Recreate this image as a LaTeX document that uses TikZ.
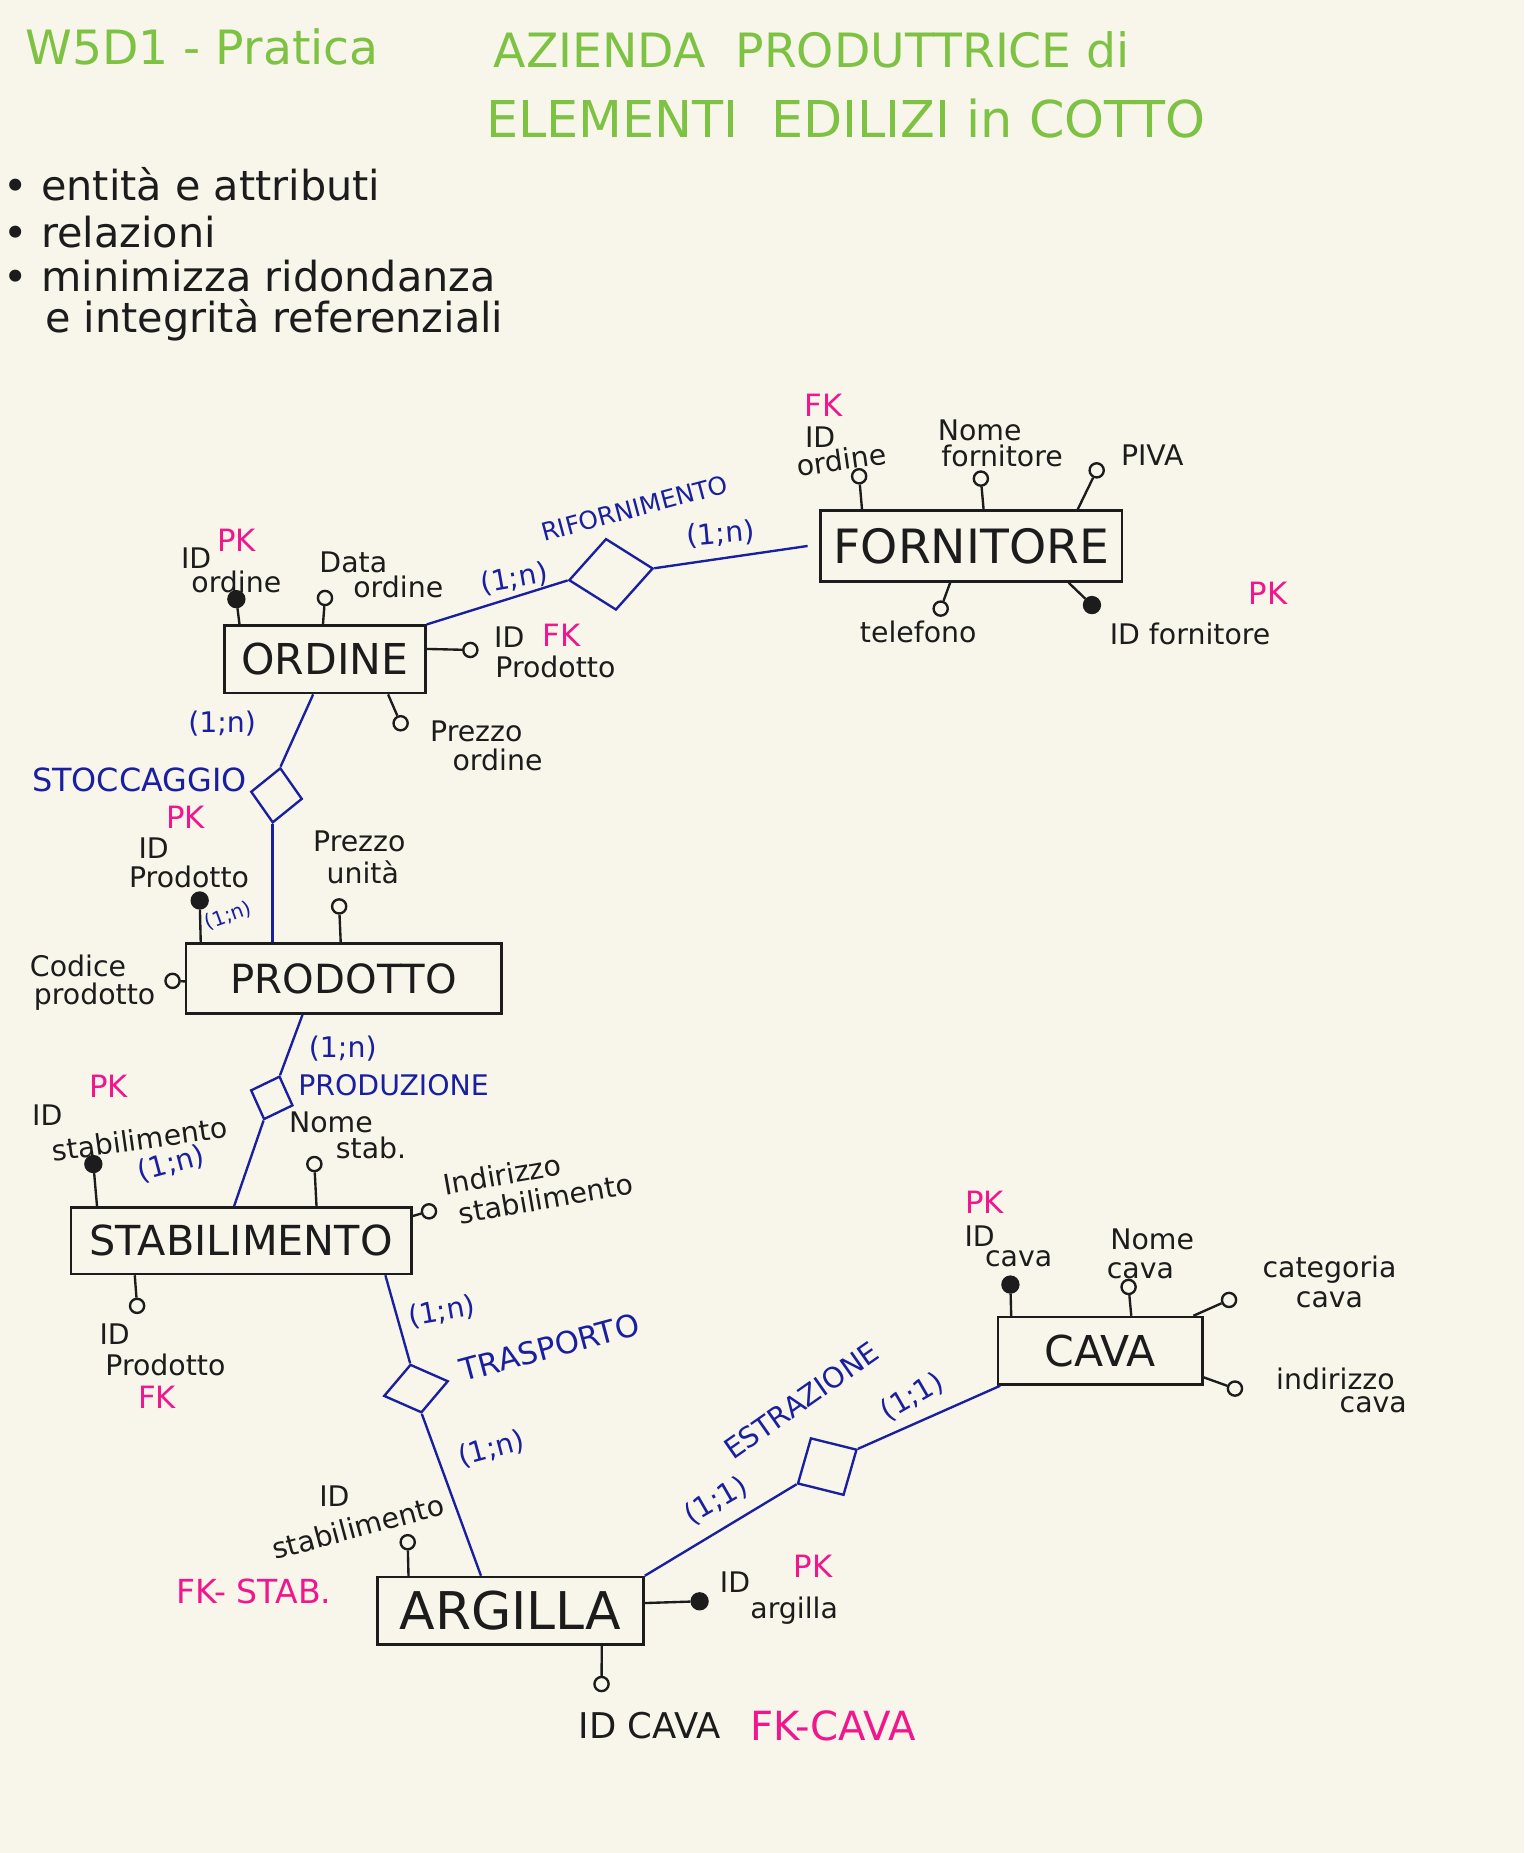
\documentclass[tikz,border=0pt]{standalone}
\usepackage{fontspec}
\setmainfont{DejaVu Sans}
\usetikzlibrary{shapes.geometric,calc}
\definecolor{bg}{HTML}{F8F6EA}
\definecolor{ink}{HTML}{1C1C1C}
\definecolor{navy}{HTML}{1A1FA0}
\definecolor{pinkk}{HTML}{F2168C}
\definecolor{grn}{HTML}{7DC242}
\begin{document}
\begin{tikzpicture}[x=1pt,y=-1pt,
  ent/.style={draw=ink, line width=2.2pt, inner sep=0pt, text=ink, font=\fontsize{36}{36}\selectfont},
  rel/.style={diamond, draw=navy, line width=2pt, inner sep=0pt},
  att/.style={circle, draw=ink, fill=bg, line width=2pt, minimum size=12pt, inner sep=0pt},
  keyatt/.style={circle, draw=ink, fill=ink, line width=1.5pt, minimum size=14pt, inner sep=0pt},
  lab/.style={font=\fontsize{24}{24}\selectfont, text=ink, inner sep=0pt},
  pkl/.style={font=\fontsize{26}{26}\selectfont, text=pinkk, inner sep=0pt},
  rlab/.style={font=\fontsize{24}{24}\selectfont, text=navy, inner sep=0pt},
  card/.style={font=\fontsize{24}{24}\selectfont, text=navy, inner sep=0pt},
  title/.style={font=\fontsize{40}{40}\selectfont, text=grn, inner sep=0pt},
  bul/.style={font=\fontsize{35}{35}\selectfont, text=ink, inner sep=0pt, anchor=west},
  aline/.style={draw=ink, line width=2pt},
  rline/.style={draw=navy, line width=2pt}
]
\fill[bg] (0,0) rectangle (1290,1568);
\useasboundingbox (0,0) rectangle (1290,1568);

% titles
\node[title] (t1) at (171,40) {W5D1 - Pratica};
\node[title] (t2) at (687,42) {AZIENDA\ \ PRODUTTRICE di};
\node[title, font=\fontsize{43}{43}\selectfont] (t3) at (716,100) {ELEMENTI\ \ EDILIZI in COTTO};

% bullets
\node[bul] (b1) at (3,156) {• entità e attributi};
\node[bul] (b2) at (3,196) {• relazioni};
\node[bul] (b3) at (3,234) {• minimizza ridondanza};
\node[bul] (b4) at (38,271) {e integrità referenziali};

% entities
\node[ent, minimum width=170pt, minimum height=57pt] (ord) at (275,558) {ORDINE};
\node[ent, minimum width=255pt, minimum height=60pt, font=\fontsize{40}{40}\selectfont] (forn) at (822,462) {FORNITORE};
\node[ent, minimum width=267pt, minimum height=59pt, font=\fontsize{34}{34}\selectfont] (prod) at (291,828) {PRODOTTO};
\node[ent, minimum width=288pt, minimum height=56pt, font=\fontsize{35}{35}\selectfont] (stab) at (204,1050) {STABILIMENTO};
\node[ent, minimum width=225pt, minimum height=57pt, font=\fontsize{44}{44}\selectfont] (arg) at (432,1363) {ARGILLA};
\node[ent, minimum width=173pt, minimum height=57pt] (cava) at (931,1143) {CAVA};

% relationships
\node[rel, minimum width=72pt, minimum height=61pt, rotate=8] (rif) at (517,486) {};
\node[rel, minimum width=44pt, minimum height=47pt, rotate=-8] (stoc) at (234,673) {};
\node[rel, minimum width=38pt, minimum height=39pt, rotate=-20] (pzn) at (230,929) {};
\node[rel, minimum width=56pt, minimum height=42pt, rotate=13] (tra) at (352,1175) {};
\node[rel, minimum width=58pt, minimum height=56pt, rotate=30] (estr) at (700,1241) {};

% relationship lines
\draw[rline] (ord.north east) -- (rif.west);
\draw[rline] (rif.east) -- ([xshift=-10pt]forn.west);
\draw[rline] ([xshift=-10pt]ord.south) -- (stoc.north);
\draw[rline] (stoc.south) -- (stoc.south |- prod.north);
\draw[rline] ([xshift=-35pt]prod.south) -- (pzn.north);
\draw[rline] (pzn.south) -- ([xshift=-6pt]stab.north);
\draw[rline] ([xshift=-23pt]stab.south east) -- (tra.north);
\draw[rline] (tra.south) -- ([xshift=-25pt]arg.north);
\draw[rline] (arg.north east) -- (estr.west);
\draw[rline] (estr.east) -- ([xshift=3pt]cava.south west);

% relationship labels
\node[rlab, rotate=15, font=\fontsize{21}{21}\selectfont] (lrif) at (537,430) {RIFORNIMENTO};
\node[card, rotate=10] (c1) at (435,490) {(1;n)};
\node[card, rotate=5] (c2) at (610,452) {(1;n)};
\node[rlab, font=\fontsize{27}{27}\selectfont] (lstoc) at (118,660) {STOCCAGGIO};
\node[card] (c3) at (188,612) {(1;n)};
\node[card, rotate=20, font=\fontsize{17}{17}\selectfont] (c4) at (193,775) {(1;n)};
\node[rlab] (lpzn) at (333,918) {PRODUZIONE};
\node[card] (c5) at (290,887) {(1;n)};
\node[card, rotate=15] (c6) at (145,985) {(1;n)};
\node[rlab, rotate=15, font=\fontsize{26}{26}\selectfont] (ltra) at (465,1140) {TRASPORTO};
\node[card, rotate=10] (c7) at (374,1110) {(1;n)};
\node[card, rotate=15] (c8) at (416,1226) {(1;n)};
\node[rlab, rotate=35] (lestr) at (678,1185) {ESTRAZIONE};
\node[card, rotate=30] (c9) at (772,1182) {(1;1)};
\node[card, rotate=30] (c10) at (606,1270) {(1;1)};

% ORDINE attributes
\node[keyatt] (o1) at (200,507) {};
\draw[aline] (o1) -- ($(ord.north west)!0.08!(ord.north east)$);
\node[att] (o2) at (275,506) {};
\draw[aline] (o2) -- ($(ord.north west)!0.49!(ord.north east)$);
\node[att] (o3) at (398,550) {};
\draw[aline] (o3) -- ($(ord.north east)!0.35!(ord.south east)$);
\node[att] (o4) at (339,612) {};
\draw[aline] (o4) -- ($(ord.south west)!0.81!(ord.south east)$);
\node[lab] (o1a) at (166,472) {ID};
\node[pkl] (o1p) at (200,457) {PK};
\node[lab] (o1b) at (200,492) {ordine};
\node[lab] (o2a) at (299,476) {Data};
\node[lab] (o2b) at (337,497) {ordine};
\node[lab] (o3a) at (431,539) {ID};
\node[pkl] (o3p) at (475,538) {FK};
\node[lab] (o3b) at (470,564) {Prodotto};
\node[lab] (o4a) at (403,619) {Prezzo};
\node[lab] (o4b) at (421,643) {ordine};

% FORNITORE attributes
\node[att] (f1) at (727,403) {};
\draw[aline] (f1) -- ($(forn.north west)!0.14!(forn.north east)$);
\node[att] (f2) at (830,405) {};
\draw[aline] (f2) -- ($(forn.north west)!0.54!(forn.north east)$);
\node[att] (f3) at (928,398) {};
\draw[aline] (f3) -- ($(forn.north west)!0.85!(forn.north east)$);
\node[att] (f4) at (796,515) {};
\draw[aline] (f4) -- ($(forn.south west)!0.43!(forn.south east)$);
\node[keyatt] (f5) at (924,512) {};
\draw[aline] (f5) -- ($(forn.south west)!0.82!(forn.south east)$);
\node[pkl] (f1p) at (697,343) {FK};
\node[lab] (f1a) at (694,370) {ID};
\node[lab, rotate=8] (f1b) at (712,389) {ordine};
\node[lab] (f2a) at (829,364) {Nome};
\node[lab] (f2b) at (848,386) {fornitore};
\node[lab] (f3a) at (975,385) {PIVA};
\node[lab] (f4a) at (777,535) {telefono};
\node[pkl] (f5p) at (1073,502) {PK};
\node[lab] (f5a) at (1007,536) {ID fornitore};

% PRODOTTO attributes
\node[keyatt] (p1) at (169,762) {};
\draw[aline] (p1) -- ($(prod.north west)!0.05!(prod.north east)$);
\node[att] (p2) at (287,767) {};
\draw[aline] (p2) -- ($(prod.north west)!0.49!(prod.north east)$);
\node[att] (p3) at (146,830) {};
\draw[aline] (p3) -- ($(prod.north west)!0.54!(prod.south west)$);
\node[pkl] (p1p) at (157,692) {PK};
\node[lab] (p1a) at (130,718) {ID};
\node[lab] (p1b) at (160,742) {Prodotto};
\node[lab] (p2a) at (304,712) {Prezzo};
\node[lab] (p2b) at (307,738) {unità};
\node[lab] (p3a) at (66,817) {Codice};
\node[lab] (p3b) at (80,843) {prodotto};

% STABILIMENTO attributes
\node[keyatt] (s1) at (79,985) {};
\draw[aline] (s1) -- ($(stab.north west)!0.08!(stab.north east)$);
\node[att] (s2) at (266,985) {};
\draw[aline] (s2) -- ($(stab.north west)!0.72!(stab.north east)$);
\node[att] (s3) at (363,1025) {};
\draw[aline] (s3) -- ($(stab.north east)!0.14!(stab.south east)$);
\node[att] (s4) at (116,1105) {};
\draw[aline] (s4) -- ($(stab.south west)!0.19!(stab.south east)$);
\node[pkl] (s1p) at (92,919) {PK};
\node[lab] (s1a) at (40,944) {ID};
\node[lab, rotate=8] (s1b) at (118,964) {stabilimento};
\node[lab] (s2a) at (280,950) {Nome};
\node[lab] (s2b) at (314,971) {stab.};
\node[lab, rotate=10] (s3a) at (425,994) {Indirizzo};
\node[lab, rotate=10] (s3b) at (462,1014) {stabilimento};
\node[lab] (s4a) at (97,1129) {ID};
\node[lab] (s4b) at (140,1155) {Prodotto};
\node[pkl] (s4p) at (133,1182) {FK};

% ARGILLA attributes
\node[att] (a1) at (345,1305) {};
\draw[aline] (a1) -- ($(arg.north west)!0.12!(arg.north east)$);
\node[keyatt] (a2) at (592,1355) {};
\draw[aline] (a2) -- ($(arg.north east)!0.39!(arg.south east)$);
\node[att] (a3) at (509,1425) {};
\draw[aline] (a3) -- ($(arg.south west)!0.84!(arg.south east)$);
\node[lab] (a1a) at (283,1266) {ID};
\node[lab, rotate=15] (a1b) at (303,1292) {stabilimento};
\node[pkl, font=\fontsize{28}{28}\selectfont] (a1p) at (215,1347) {FK- STAB.};
\node[lab] (a2a) at (622,1339) {ID};
\node[pkl] (a2p) at (688,1325) {PK};
\node[lab] (a2b) at (672,1363) {argilla};
\node[lab, font=\fontsize{30}{30}\selectfont] (a3a) at (550,1460) {ID CAVA};
\node[pkl, font=\fontsize{34}{34}\selectfont] (a3p) at (705,1460) {FK-CAVA};

% CAVA attributes
\node[keyatt] (v1) at (855,1087) {};
\draw[aline] (v1) -- ($(cava.north west)!0.07!(cava.north east)$);
\node[att] (v2) at (955,1089) {};
\draw[aline] (v2) -- ($(cava.north west)!0.65!(cava.north east)$);
\node[att] (v3) at (1040,1100) {};
\draw[aline] (v3) -- ($(cava.north west)!0.95!(cava.north east)$);
\node[att] (v4) at (1045,1175) {};
\draw[aline] (v4) -- ($(cava.north east)!0.88!(cava.south east)$);
\node[pkl] (v1p) at (833,1017) {PK};
\node[lab] (v1a) at (829,1046) {ID};
\node[lab] (v1b) at (862,1065) {cava};
\node[lab] (v2a) at (975,1049) {Nome};
\node[lab] (v2b) at (965,1075) {cava};
\node[lab] (v3a) at (1125,1074) {categoria};
\node[lab] (v3b) at (1125,1100) {cava};
\node[lab] (v4a) at (1130,1167) {indirizzo};
\node[lab] (v4b) at (1162,1189) {cava};
\end{tikzpicture}
\end{document}
